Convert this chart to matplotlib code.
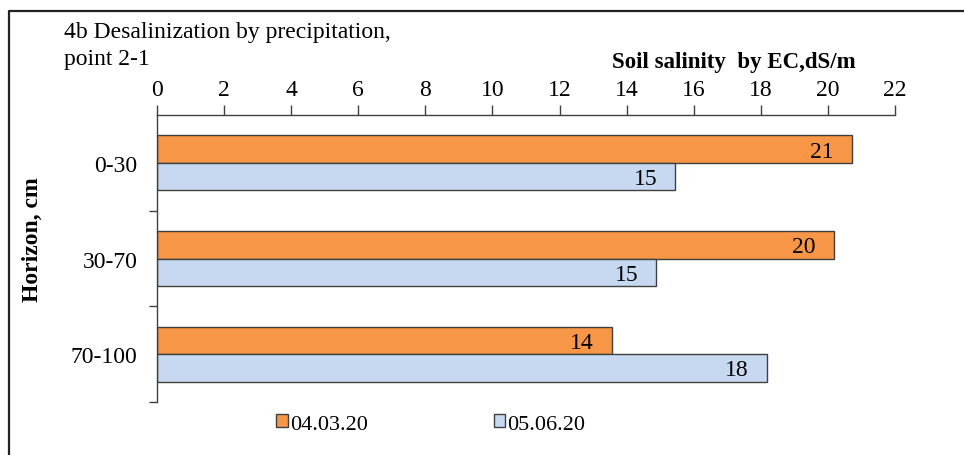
import matplotlib
matplotlib.use('Agg')
import matplotlib.pyplot as plt
from matplotlib.lines import Line2D
from matplotlib.patches import Patch
import numpy as np

horizons = ['0-30', '30-70', '70-100']
ec_0403 = [20.72, 20.18, 13.56]
ec_0506 = [15.45, 14.88, 18.18]
series_labels = ['04.03.20', '05.06.20']
x_ticks = [0, 2, 4, 6, 8, 10, 12, 14, 16, 18, 20, 22]

plt.rcParams['font.family'] = ['Liberation Serif', 'DejaVu Serif']

orange = '#F79646'
blue = '#C6D9F1'
edge = '#404040'
fs = 17

fig = plt.figure(figsize=(9.64, 4.56), dpi=100)
ax = fig.add_axes([157/964, 1 - 403/456, (895 - 157)/964, (403 - 116)/456])

y = np.arange(len(horizons))
h = 0.287
b1 = ax.barh(y - h/2, ec_0403, height=h, color=orange, edgecolor=edge, linewidth=1.0)
b2 = ax.barh(y + h/2, ec_0506, height=h, color=blue, edgecolor=edge, linewidth=1.0)

for bars, vals in ((b1, ec_0403), (b2, ec_0506)):
    for bar, v in zip(bars, vals):
        ax.annotate(f'{v:.0f}', (v, bar.get_y() + bar.get_height()/2),
                    xytext=(-13, -1.5), textcoords='offset points',
                    ha='right', va='center', fontsize=fs, color='black')

ax.set_xlim(0, 22)
ax.set_ylim(2.5, -0.5)
ax.set_xticks(x_ticks)
ax.xaxis.tick_top()
ax.xaxis.set_label_position('top')
ax.tick_params(axis='x', which='major', direction='out', length=7, width=1,
               color=edge, labelsize=fs, pad=4)
ax.set_yticks(y)
ax.set_yticklabels(horizons)
ax.set_yticks([0.5, 1.5, 2.5], minor=True)
ax.tick_params(axis='y', which='major', length=0, labelsize=fs, pad=14)
ax.tick_params(axis='y', which='minor', direction='out', length=6, width=1, color=edge)

for s in ('bottom', 'right'):
    ax.spines[s].set_visible(False)
for s in ('top', 'left'):
    ax.spines[s].set_color(edge)
    ax.spines[s].set_linewidth(1.0)

fig.text(734/964, 1 - 68/456, 'Soil salinity  by EC,dS/m', ha='center', va='baseline',
         fontsize=16.5, fontweight='bold')
fig.text(32/964, 1 - 240/456, 'Horizon, cm', ha='center', va='center', rotation=90,
         fontsize=17, fontweight='bold')
fig.text(64/964, 1 - 38/456, '4b Desalinization by precipitation,',
         ha='left', va='baseline', fontsize=fs)
fig.text(64/964, 1 - 65/456, 'point 2-1', ha='left', va='baseline', fontsize=fs)

handles = [Patch(facecolor=orange, edgecolor=edge, linewidth=1.0),
           Patch(facecolor=blue, edgecolor=edge, linewidth=1.0)]
fig.legend(handles, series_labels, loc='center', bbox_to_anchor=(431/964, 1 - 425/456),
           ncol=2, frameon=False, fontsize=16, handlelength=0.5, handleheight=0.5,
           handletextpad=0.1, columnspacing=5.7)

fig.add_artist(Line2D([9/964, 9/964, 1.0], [0.0, 1 - 12/456, 1 - 12/456],
                      transform=fig.transFigure, color='#222222', linewidth=1.6))

fig.savefig('out.png', dpi=100)
